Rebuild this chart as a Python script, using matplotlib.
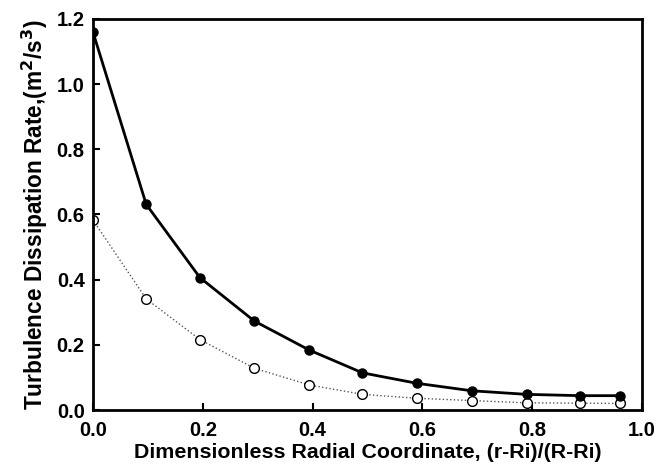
import matplotlib
matplotlib.use('Agg')
import matplotlib.pyplot as plt

plt.rcParams['font.family'] = ['Liberation Sans', 'DejaVu Sans']
plt.rcParams['font.weight'] = 'bold'
plt.rcParams['mathtext.default'] = 'bf'

# --- data
x = [0.0, 0.097, 0.195, 0.294, 0.394, 0.491, 0.59, 0.69, 0.79, 0.888, 0.961]
eps_solid = [1.160, 0.631, 0.406, 0.273, 0.184, 0.114, 0.082, 0.059, 0.048, 0.044, 0.044]
eps_open = [0.583, 0.341, 0.216, 0.128, 0.077, 0.048, 0.036, 0.029, 0.022, 0.021, 0.020]

xticks = [0.0, 0.2, 0.4, 0.6, 0.8, 1.0]
yticks = [0.0, 0.2, 0.4, 0.6, 0.8, 1.0, 1.2]

fig = plt.figure(figsize=(6.57, 4.71), dpi=100)
ax = fig.add_axes([0.1415, 0.1295, 0.8355, 0.8302])

ax.plot(x, eps_open, linestyle=':', color='#555555', linewidth=1.0,
        marker='o', markersize=7, markerfacecolor='white',
        markeredgecolor='black', markeredgewidth=1.0, zorder=2)
ax.plot(x, eps_solid, linestyle='-', color='black', linewidth=2.0,
        marker='o', markersize=6.5, markerfacecolor='black',
        markeredgecolor='black', zorder=3)

ax.set_xlim(0, 1.0)
ax.set_ylim(0, 1.2)
ax.set_xticks(xticks)
ax.set_yticks(yticks)
ax.set_xticklabels(['%.1f' % v for v in xticks])
ax.set_yticklabels(['%.1f' % v for v in yticks])
ax.tick_params(direction='in', length=5, width=1.5, labelsize=14.5,
               top=False, right=False)
ax.tick_params(axis='x', pad=8)
ax.tick_params(axis='y', pad=6)
for lab in ax.get_xticklabels() + ax.get_yticklabels():
    lab.set_fontweight('bold')
for s in ax.spines.values():
    s.set_linewidth(2.0)

ax.set_xlabel('Dimensionless Radial Coordinate, (r-Ri)/(R-Ri)',
              fontsize=15.4, fontweight='bold', labelpad=2)
ax.set_ylabel(r'Turbulence Dissipation Rate,(m$^{2}$/s$^{3}$)',
              fontsize=16.3, fontweight='bold', labelpad=5)

plt.savefig('out.png', dpi=100)
